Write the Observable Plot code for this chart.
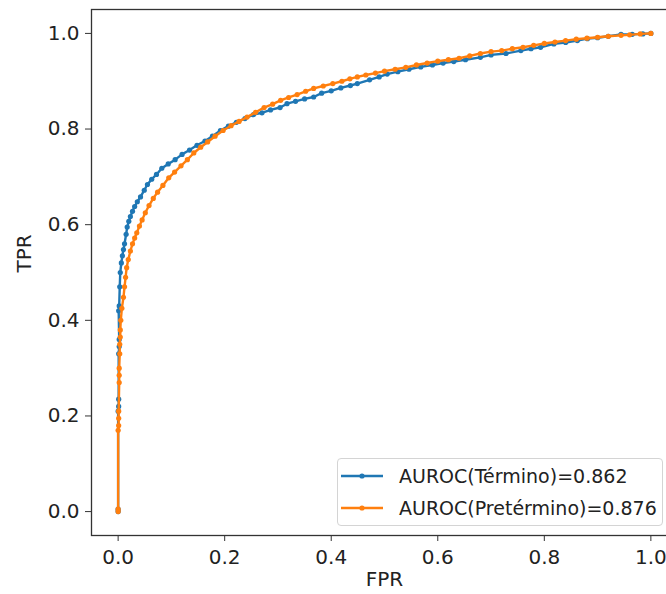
<!DOCTYPE html>
<html>
<head>
<meta charset="utf-8">
<script src="https://cdn.jsdelivr.net/npm/d3@7"></script>
<script src="https://cdn.jsdelivr.net/npm/@observablehq/plot@0.6"></script>
<style>
  html, body { margin: 0; padding: 0; overflow: hidden; background: #fff; }
  #wrap { position: relative; width: 680px; height: 594px; }
  #legend { position: absolute; left: 337px; top: 458px; width: 326px; height: 68px;
    border: 1px solid #d4d4d4; border-radius: 4px; background: rgba(255,255,255,0.85);
    font-family: "DejaVu Sans"; font-size: 19px; color: #222; box-sizing: border-box; }
  .row { position: absolute; left: 0; height: 30px; display: flex; align-items: center; }
  .row svg { margin-left: 2px; }
  .row span { margin-left: 15px; white-space: nowrap; }
</style>
</head>
<body>
<div id="wrap"></div>
<script>
// ---- data ----
const seriesNames = ["AUROC(Término)=0.862", "AUROC(Pretérmino)=0.876"];
const seriesColors = ["#1f77b4", "#ff7f0e"];
const xTicks = [0.0, 0.2, 0.4, 0.6, 0.8, 1.0];
const yTicks = [0.0, 0.2, 0.4, 0.6, 0.8, 1.0];

const termFpr = [0,0,0,0.001,0.001,0.001,0.002,0.002,0.001,0.002,0.003,0.004,0.006,0.008,0.010,0.012,0.015,0.017,0.020,0.023,0.027,0.031,0.036,0.042,0.049,0.055,0.063,0.072,0.082,0.094,0.107,0.12,0.134,0.148,0.163,0.177,0.192,0.207,0.222,0.238,0.254,0.270,0.286,0.304,0.317,0.333,0.350,0.367,0.382,0.40,0.418,0.436,0.449,0.472,0.49,0.505,0.525,0.546,0.568,0.59,0.61,0.63,0.652,0.68,0.70,0.728,0.756,0.775,0.793,0.818,0.84,0.862,0.881,0.90,0.92,0.944,0.965,0.985,1.0];
const termTpr = [0,0.005,0.21,0.22,0.235,0.33,0.345,0.36,0.42,0.43,0.47,0.50,0.52,0.535,0.548,0.56,0.58,0.595,0.607,0.617,0.628,0.638,0.648,0.658,0.672,0.684,0.695,0.705,0.718,0.727,0.736,0.747,0.756,0.766,0.775,0.785,0.797,0.806,0.814,0.822,0.830,0.834,0.840,0.845,0.853,0.858,0.863,0.867,0.875,0.880,0.886,0.891,0.895,0.903,0.909,0.915,0.920,0.925,0.930,0.934,0.938,0.941,0.945,0.950,0.955,0.958,0.964,0.968,0.971,0.978,0.981,0.985,0.989,0.991,0.994,0.998,0.998,0.999,1.0];

const preFpr = [0,0,0,0.001,0.001,0.001,0.002,0.002,0.002,0.003,0.003,0.004,0.004,0.005,0.007,0.010,0.012,0.014,0.016,0.019,0.023,0.027,0.031,0.035,0.040,0.045,0.051,0.058,0.066,0.074,0.084,0.095,0.106,0.118,0.13,0.142,0.155,0.168,0.182,0.197,0.212,0.227,0.242,0.258,0.274,0.29,0.305,0.32,0.336,0.352,0.367,0.385,0.403,0.42,0.435,0.449,0.465,0.483,0.50,0.52,0.54,0.56,0.58,0.60,0.62,0.64,0.66,0.68,0.70,0.72,0.74,0.76,0.78,0.80,0.82,0.84,0.86,0.88,0.90,0.92,0.944,0.96,0.98,1.0];
const preTpr = [0,0.005,0.17,0.18,0.195,0.21,0.27,0.285,0.30,0.33,0.35,0.365,0.38,0.40,0.425,0.448,0.47,0.49,0.51,0.527,0.545,0.56,0.572,0.583,0.597,0.61,0.625,0.64,0.655,0.668,0.682,0.698,0.71,0.723,0.736,0.75,0.762,0.773,0.785,0.797,0.807,0.816,0.825,0.835,0.845,0.852,0.86,0.866,0.872,0.879,0.885,0.89,0.895,0.90,0.905,0.909,0.913,0.917,0.921,0.925,0.929,0.934,0.938,0.942,0.945,0.948,0.953,0.958,0.962,0.964,0.968,0.971,0.975,0.979,0.982,0.985,0.988,0.99,0.992,0.994,0.996,0.997,0.999,1.0];

// ---- build tables ----
const term = termFpr.map((x, i) => ({fpr: x, tpr: termTpr[i]}));
const pre = preFpr.map((x, i) => ({fpr: x, tpr: preTpr[i]}));

const fmt = d3.format(".1f");
const chart = Plot.plot({
  width: 680,
  height: 594,
  marginLeft: 91,
  marginRight: 3,
  marginTop: 9,
  marginBottom: 59,
  style: {fontFamily: "DejaVu Sans", fontSize: "20px", color: "#222", background: "white", overflow: "visible"},
  x: {domain: [-0.05, 1.05]},
  y: {domain: [-0.05, 1.05]},
  marks: [
    Plot.axisX({ticks: xTicks, tickFormat: fmt, tickSize: 6, tickPadding: 8, label: null, fontSize: 20, stroke: "#333"}),
    Plot.axisY({ticks: yTicks, tickFormat: fmt, tickSize: 6, tickPadding: 6, label: null, fontSize: 20, stroke: "#333"}),
    Plot.line(term, {x: "fpr", y: "tpr", stroke: seriesColors[0], strokeWidth: 2.4}),
    Plot.dot(term, {x: "fpr", y: "tpr", fill: seriesColors[0], r: 2.6}),
    Plot.line(pre, {x: "fpr", y: "tpr", stroke: seriesColors[1], strokeWidth: 2.4}),
    Plot.dot(pre, {x: "fpr", y: "tpr", fill: seriesColors[1], r: 2.6}),
    Plot.frame({stroke: "#333", strokeWidth: 1.3}),
    Plot.text(["FPR"], {frameAnchor: "bottom", dy: 50, fontSize: 20, fill: "#222"}),
    Plot.text(["TPR"], {frameAnchor: "left", dx: -67, rotate: -90, fontSize: 20, fill: "#222"})
  ]
});
const wrap = document.getElementById("wrap");
wrap.appendChild(chart);

// ---- legend ----
const legend = document.createElement("div");
legend.id = "legend";
seriesNames.forEach((name, i) => {
  const row = document.createElement("div");
  row.className = "row";
  row.style.top = (2 + i * 32) + "px";
  row.innerHTML = `<svg width="44" height="10"><line x1="1" y1="5" x2="43" y2="5" stroke="${seriesColors[i]}" stroke-width="2.4"/><circle cx="22" cy="5" r="2.6" fill="${seriesColors[i]}"/></svg><span>${name}</span>`;
  legend.appendChild(row);
});
wrap.appendChild(legend);
</script>
</body>
</html>
